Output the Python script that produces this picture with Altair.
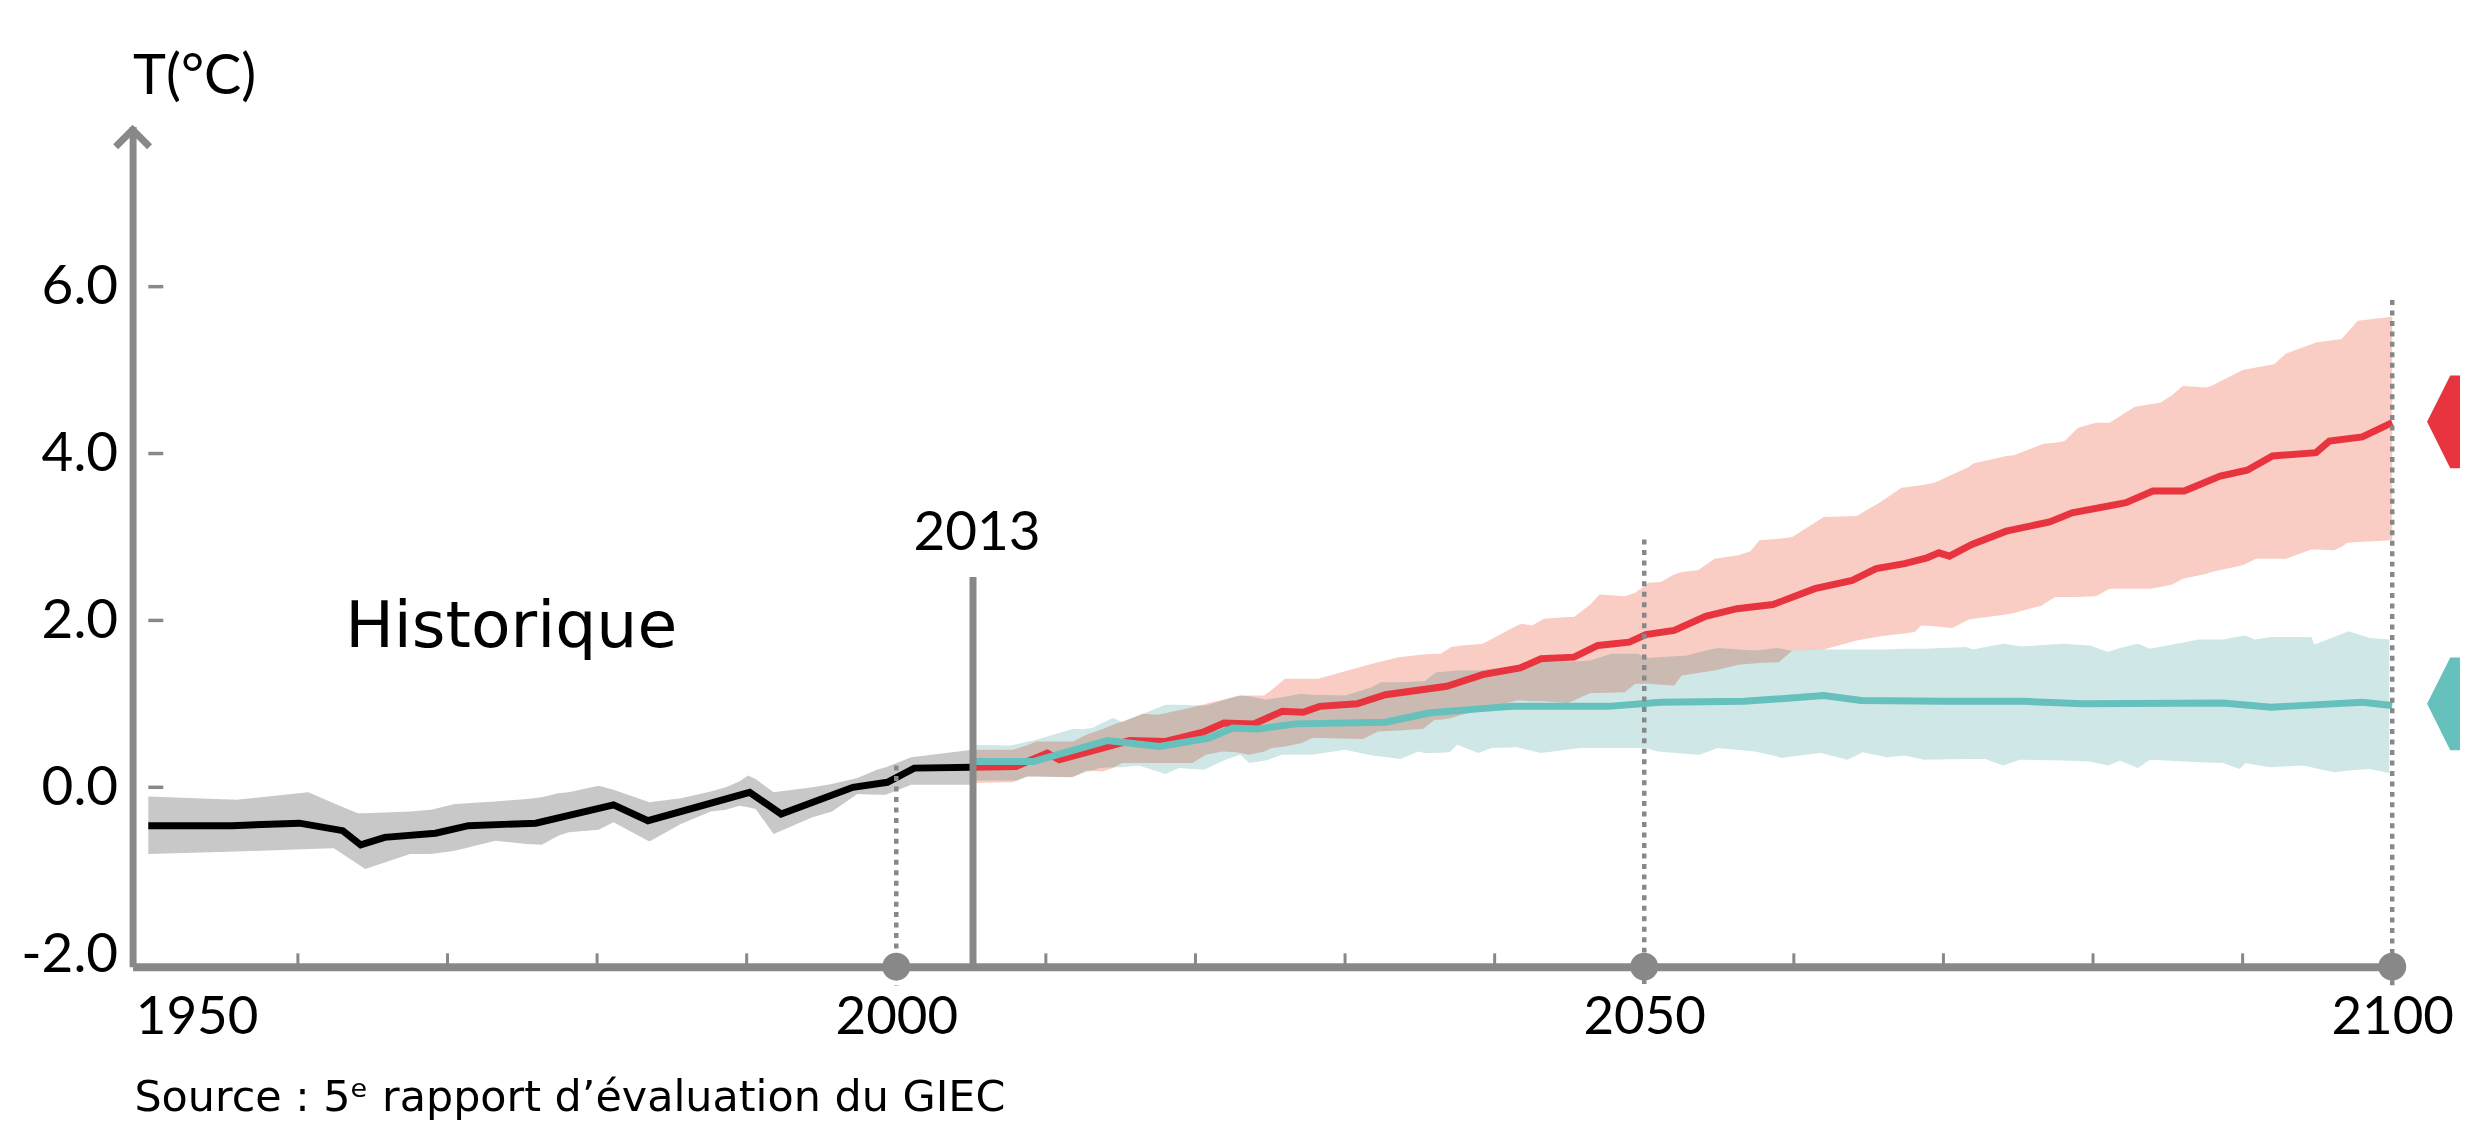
import altair as alt
import pandas as pd

# ---------------- data ----------------
hist_years = [1950.0, 1955.6, 1960.1, 1963.0, 1964.2, 1965.8, 1969.2, 1971.4, 1975.9,
              1981.1, 1983.4, 1990.2, 1992.3, 1997.1, 1999.4, 2001.2, 2005.1]
hist_temps = [-0.46, -0.46, -0.43, -0.52, -0.69, -0.60, -0.55, -0.46, -0.43,
              -0.21, -0.40, -0.06, -0.32, 0.00, 0.06, 0.23, 0.24]

hist_band_years = [1950.0, 1955.9, 1960.7, 1962.4, 1964.0, 1964.5, 1967.5, 1968.9, 1970.5,
                   1973.2, 1975.3, 1976.3, 1977.4, 1978.1, 1980.1, 1981.1, 1983.5, 1985.6,
                   1987.6, 1988.6, 1989.5, 1990.1, 1990.6, 1991.8, 1994.4, 1995.7, 1997.4,
                   1998.7, 1999.3, 2001.0, 2005.1]
hist_band_lo = [-0.80, -0.77, -0.74, -0.73, -0.92, -0.98, -0.80, -0.80, -0.76,
                -0.64, -0.68, -0.69, -0.58, -0.54, -0.51, -0.42, -0.65, -0.44,
                -0.29, -0.27, -0.22, -0.24, -0.26, -0.56, -0.36, -0.29, -0.08,
                -0.09, -0.09, 0.03, 0.03]
hist_band_hi = [-0.11, -0.15, -0.06, -0.19, -0.31, -0.31, -0.29, -0.27, -0.20,
                -0.17, -0.14, -0.12, -0.07, -0.06, 0.02, -0.03, -0.18, -0.13,
                -0.05, 0.00, 0.07, 0.14, 0.10, -0.06, 0.00, 0.04, 0.11,
                0.21, 0.24, 0.36, 0.45]

red_years = [2005.1, 2008.0, 2010.1, 2010.9, 2014.2, 2015.6, 2018.0, 2020.5, 2021.9, 2023.9,
             2025.8, 2027.2, 2028.3, 2030.8, 2032.7, 2036.8, 2039.2, 2041.7, 2043.1, 2045.3,
             2046.9, 2049.0, 2050.1, 2052.0, 2054.1, 2056.2, 2058.6, 2061.4, 2063.9, 2065.5,
             2067.4, 2068.9, 2069.7, 2070.4, 2071.9, 2074.2, 2077.1, 2078.6, 2082.2, 2084.0,
             2086.1, 2088.5, 2090.3, 2092.0, 2094.9, 2095.8, 2098.0, 2100.0]
red_temps = [0.24, 0.25, 0.41, 0.33, 0.49, 0.56, 0.55, 0.66, 0.77, 0.76,
             0.91, 0.90, 0.97, 1.00, 1.11, 1.21, 1.35, 1.43, 1.54, 1.56,
             1.70, 1.74, 1.83, 1.88, 2.05, 2.14, 2.19, 2.38, 2.48, 2.62,
             2.68, 2.75, 2.81, 2.77, 2.91, 3.07, 3.18, 3.29, 3.41, 3.55,
             3.55, 3.73, 3.80, 3.97, 4.01, 4.15, 4.20, 4.37]

teal_years = [2005.1, 2009.2, 2014.1, 2017.6, 2020.9, 2022.5, 2024.2, 2026.7, 2032.7, 2035.6,
              2038.9, 2041.2, 2047.6, 2051.1, 2056.7, 2062.0, 2064.5, 2070.0, 2075.4, 2079.3,
              2088.7, 2091.9, 2098.0, 2100.0]
teal_temps = [0.31, 0.31, 0.56, 0.49, 0.59, 0.71, 0.70, 0.76, 0.78, 0.89,
              0.94, 0.97, 0.97, 1.02, 1.03, 1.10, 1.04, 1.03, 1.03, 1.00,
              1.01, 0.96, 1.02, 0.98]

red_band_years = [2005.1, 2007.8, 2008.7, 2009.35, 2011.8, 2012.7, 2013.8, 2014.5, 2015.1, 2016.5,
                  2017.5, 2019.8, 2020.7, 2021.8, 2022.7, 2023.0, 2023.6, 2024.6, 2025.1, 2026.0,
                  2027.1, 2027.8, 2028.2, 2031.2, 2032.2, 2033.6, 2035.2, 2036.0, 2036.4, 2037.1,
                  2037.8, 2039.2, 2041.5, 2041.8, 2042.5, 2043.3, 2044.9, 2045.3, 2046.4, 2047.0,
                  2048.7, 2049.4, 2050.3, 2051.1, 2052.0, 2052.5, 2053.6, 2054.7, 2056.3, 2057.1,
                  2057.7, 2059.0, 2059.9, 2062.0, 2064.2, 2065.8, 2067.2, 2068.1, 2068.5, 2069.4,
                  2070.6, 2071.7, 2072.0, 2074.2, 2074.7, 2076.6, 2076.8, 2077.5, 2078.1, 2079.0,
                  2080.2, 2081.1, 2082.8, 2083.8, 2084.5, 2085.3, 2086.0, 2087.6, 2087.9, 2090.0,
                  2090.9, 2092.1, 2092.9, 2094.6, 2094.9, 2096.1, 2096.6, 2097.0, 2097.7, 2100.0]
red_band_lo = [0.05, 0.06, 0.13, 0.13, 0.12, 0.20, 0.19, 0.23, 0.29, 0.29,
               0.29, 0.29, 0.39, 0.43, 0.42, 0.41, 0.39, 0.43, 0.47, 0.49,
               0.53, 0.59, 0.59, 0.58, 0.67, 0.68, 0.70, 0.81, 0.81, 0.83,
               0.87, 0.93, 1.04, 1.04, 1.03, 1.03, 1.01, 1.04, 1.13, 1.13,
               1.14, 1.24, 1.24, 1.23, 1.22, 1.34, 1.37, 1.40, 1.47, 1.48,
               1.49, 1.50, 1.64, 1.65, 1.76, 1.81, 1.84, 1.86, 1.94, 1.93,
               1.91, 2.01, 2.02, 2.07, 2.09, 2.18, 2.21, 2.28, 2.28, 2.28,
               2.29, 2.38, 2.38, 2.38, 2.40, 2.43, 2.50, 2.56, 2.58, 2.66,
               2.74, 2.74, 2.74, 2.85, 2.85, 2.84, 2.88, 2.93, 2.94, 2.96]
red_band_hi = [0.45, 0.45, 0.50, 0.55, 0.55, 0.63, 0.70, 0.75, 0.79, 0.88,
               0.87, 0.96, 1.00, 1.05, 1.09, 1.10, 1.10, 1.10, 1.17, 1.30,
               1.30, 1.30, 1.30, 1.45, 1.50, 1.56, 1.59, 1.60, 1.60, 1.68,
               1.70, 1.72, 1.94, 1.96, 1.94, 2.02, 2.04, 2.04, 2.19, 2.31,
               2.29, 2.33, 2.45, 2.46, 2.55, 2.58, 2.60, 2.74, 2.78, 2.83,
               2.96, 2.98, 3.00, 3.24, 3.25, 3.42, 3.59, 3.61, 3.62, 3.65,
               3.75, 3.84, 3.88, 3.97, 3.98, 4.11, 4.12, 4.13, 4.15, 4.31,
               4.37, 4.37, 4.56, 4.59, 4.61, 4.70, 4.81, 4.79, 4.81, 5.00,
               5.03, 5.07, 5.20, 5.31, 5.33, 5.36, 5.37, 5.45, 5.59, 5.64]

teal_band_years = [2005.1, 2007.6, 2008.1, 2008.8, 2009.2, 2011.6, 2011.8, 2012.5, 2013.1, 2013.6,
                   2014.5, 2015.1, 2016.2, 2018.0, 2018.9, 2020.5, 2020.7, 2022.0, 2023.0, 2023.6,
                   2024.7, 2025.8, 2027.0, 2027.8, 2030.0, 2031.8, 2032.4, 2033.7, 2034.9, 2035.3,
                   2036.1, 2037.0, 2037.5, 2038.9, 2039.8, 2041.5, 2043.1, 2045.7, 2046.4, 2047.8,
                   2049.6, 2050.0, 2050.3, 2050.9, 2052.9, 2053.7, 2054.9, 2057.4, 2058.9, 2059.2,
                   2059.8, 2061.8, 2063.6, 2064.6, 2066.2, 2067.4, 2068.7, 2071.5, 2072.0, 2072.8,
                   2074.0, 2075.1, 2075.4, 2078.0, 2079.8, 2081.0, 2081.8, 2083.0, 2083.8, 2087.1,
                   2088.7, 2089.8, 2090.2, 2090.8, 2091.9, 2094.0, 2094.6, 2094.8, 2096.1, 2097.1,
                   2098.5, 2099.8]
teal_band_lo = [0.08, 0.08, 0.08, 0.13, 0.13, 0.12, 0.13, 0.17, 0.20, 0.23,
                0.24, 0.24, 0.26, 0.16, 0.23, 0.21, 0.22, 0.33, 0.39, 0.29,
                0.32, 0.39, 0.39, 0.39, 0.45, 0.38, 0.37, 0.34, 0.43, 0.41,
                0.41, 0.42, 0.51, 0.41, 0.47, 0.48, 0.41, 0.47, 0.47, 0.47,
                0.47, 0.47, 0.46, 0.43, 0.40, 0.39, 0.47, 0.43, 0.37, 0.35,
                0.37, 0.41, 0.33, 0.42, 0.36, 0.38, 0.33, 0.34, 0.34, 0.34,
                0.26, 0.33, 0.33, 0.32, 0.31, 0.26, 0.32, 0.23, 0.33, 0.30,
                0.29, 0.22, 0.29, 0.27, 0.24, 0.26, 0.24, 0.23, 0.18, 0.20,
                0.22, 0.17]
teal_band_hi = [0.51, 0.50, 0.52, 0.55, 0.56, 0.69, 0.70, 0.70, 0.71, 0.76,
                0.83, 0.78, 0.86, 0.99, 0.99, 0.98, 0.98, 1.05, 1.10, 1.09,
                1.05, 1.08, 1.12, 1.11, 1.10, 1.20, 1.26, 1.26, 1.27, 1.27,
                1.38, 1.39, 1.40, 1.40, 1.42, 1.45, 1.50, 1.51, 1.52, 1.60,
                1.60, 1.56, 1.55, 1.56, 1.58, 1.62, 1.67, 1.64, 1.67, 1.66,
                1.64, 1.65, 1.65, 1.65, 1.65, 1.66, 1.66, 1.68, 1.65, 1.68,
                1.72, 1.69, 1.69, 1.72, 1.70, 1.62, 1.67, 1.72, 1.66, 1.77,
                1.77, 1.81, 1.82, 1.77, 1.80, 1.80, 1.80, 1.71, 1.80, 1.87,
                1.79, 1.77]

x_label_years = [1950, 2000, 2050, 2100]
y_label_values = [-2, 0, 2, 4, 6]
y_tick_values = [0, 2, 4, 6]
minor_tick_years = [1960, 1970, 1980, 1990, 2010, 2020, 2030, 2040, 2060, 2070, 2080, 2090]
milestone_years = [2000, 2050, 2100]
milestone_tops = [0.26, 2.97, 5.84]
scenario_names = ["RCP8.5", "RCP2.6"]
scenario_end_temps = [4.38, 1.00]

now_label = "2013"
hist_label = "Historique"
source_label = "Source : 5ᵉ rapport d’évaluation du GIEC"
y_title = "T(°C)"

# ---------------- styles ----------------
GRAY = "#888888"
RED = "#E8343F"
TEAL = "#66C0BC"
RED_BAND = "#F9CDC4"
TEAL_BAND = "#CFE8E7"
HIST_BAND = "#C8C8C8"
NUM_FONT = "Lato"
TEXT_FONT = "DejaVu Sans"

x_scale = alt.Scale(domain=[1948.95, 2100.2], nice=False, zero=False)
y_scale = alt.Scale(domain=[-2.15, 7.92], nice=False, zero=False)

x_axis = alt.Axis(
    values=x_label_years, format="d", title=None, grid=False, ticks=False, tickSize=0,
    domain=True, domainColor=GRAY, domainWidth=8,
    labelFont=NUM_FONT, labelFontSize=53, labelColor="black", labelPadding=25,
    labelFlush=False, labelOverlap=False,
    labelAlign={"condition": {"test": "datum.value == 1950", "value": "left"}, "value": "center"},
    labelOffset={"condition": {"test": "datum.value == 1950", "value": -13}, "value": 0},
)
y_axis = alt.Axis(
    values=y_label_values, title=y_title, titleAngle=0, titleAlign="left",
    titleBaseline="alphabetic", titleX=0, titleY=-33, titleFont=NUM_FONT,
    titleFontSize=56, titleFontWeight="normal", titleColor="black",
    grid=False, ticks=False, tickSize=0, domain=True, domainColor=GRAY, domainWidth=7,
    labelFont=NUM_FONT, labelFontSize=55, labelColor="black", labelPadding=15,
    labelOverlap=False, labelFlush=False,
    labelExpr="datum.value < 0 ? '-' + format(-datum.value, '.1f') : format(datum.value, '.1f')",
)


def X(field):
    return alt.X(field, type="quantitative", scale=x_scale, axis=x_axis)


def Y(field):
    return alt.Y(field, type="quantitative", scale=y_scale, axis=y_axis)


def XD(v):
    return alt.XDatum(v, type="quantitative", scale=x_scale, axis=x_axis)


def YD(v):
    return alt.YDatum(v, type="quantitative", scale=y_scale, axis=y_axis)


df_hist = pd.DataFrame({"year": hist_years, "t": hist_temps})
df_hist_band = pd.DataFrame({"year": hist_band_years, "lo": hist_band_lo, "hi": hist_band_hi})
df_red = pd.DataFrame({"year": red_years, "t": red_temps})
df_teal = pd.DataFrame({"year": teal_years, "t": teal_temps})
df_red_band = pd.DataFrame({"year": red_band_years, "lo": red_band_lo, "hi": red_band_hi})
df_teal_band = pd.DataFrame({"year": teal_band_years, "lo": teal_band_lo, "hi": teal_band_hi})
df_minor = pd.DataFrame({"year": minor_tick_years})
df_yticks = pd.DataFrame({"v": y_tick_values})
df_milestones = pd.DataFrame({"year": milestone_years, "top": milestone_tops})
df_scen = pd.DataFrame({"scenario": scenario_names, "t": scenario_end_temps})

hist_band = alt.Chart(df_hist_band).mark_area(color=HIST_BAND, opacity=1).encode(
    x=X("year"), y=Y("lo"), y2="hi")
teal_band = alt.Chart(df_teal_band).mark_area(color=TEAL_BAND, opacity=1, blend="multiply").encode(
    x=X("year"), y=Y("lo"), y2="hi")
red_band = alt.Chart(df_red_band).mark_area(color=RED_BAND, opacity=1, blend="multiply").encode(
    x=X("year"), y=Y("lo"), y2="hi")

red_line = alt.Chart(df_red).mark_line(color=RED, strokeWidth=7).encode(x=X("year"), y=Y("t"))
teal_line = alt.Chart(df_teal).mark_line(color=TEAL, strokeWidth=7).encode(x=X("year"), y=Y("t"))
hist_line = alt.Chart(df_hist).mark_line(color="black", strokeWidth=7).encode(x=X("year"), y=Y("t"))

now_rule = alt.Chart(pd.DataFrame({"label": [now_label]})).mark_rule(
    color=GRAY, strokeWidth=7).encode(x=XD(2005.13), y=YD(2.52), y2=alt.datum(-2.15))

minor_ticks = alt.Chart(df_minor).mark_rule(color=GRAY, strokeWidth=3).encode(
    x=X("year"), y=YD(-2.15), y2=alt.datum(-1.99))
y_ticks = alt.Chart(df_yticks).mark_rule(color=GRAY, strokeWidth=3.5).encode(
    y=Y("v"), x=XD(1950.0), x2=alt.datum(1951.0))

milestone_lines = alt.Chart(df_milestones).mark_rule(
    color=GRAY, strokeWidth=4.5, strokeDash=[5, 5.5]).encode(
    x=X("year"), y=Y("top"), y2=alt.datum(-2.38))
milestone_dots = alt.Chart(df_milestones).mark_circle(size=784, color=GRAY, opacity=1).encode(
    x=X("year"), y=YD(-2.15))

arrow = alt.Chart(pd.DataFrame({"k": [0]})).mark_point(
    shape="M -1 1 L 0 0 L 1 1", size=1156, filled=False, stroke=GRAY, strokeWidth=7,
    opacity=1, strokeJoin="miter").encode(x=XD(1948.95), y=YD(7.88))

hexes = alt.Chart(df_scen).mark_point(
    shape="M 0 0 L 0.5 -1 L 2.4 -1 L 2.4 1 L 0.5 1 Z", size=8649, filled=True,
    opacity=1, strokeWidth=0).encode(
    x=XD(2102.33), y=Y("t"),
    color=alt.Color("scenario:N", scale=alt.Scale(domain=scenario_names, range=[RED, TEAL]),
                    legend=None))

now_text = alt.Chart(pd.DataFrame({"label": [now_label]})).mark_text(
    font=NUM_FONT, fontSize=55, align="center", baseline="alphabetic", color="black").encode(
    x=XD(2005.4), y=YD(2.84), text="label:N")
hist_text = alt.Chart(pd.DataFrame({"label": [hist_label]})).mark_text(
    font=TEXT_FONT, fontSize=65, align="left", baseline="alphabetic", color="black").encode(
    x=XD(1963.16), y=YD(1.68), text="label:N")
source_text = alt.Chart(pd.DataFrame({"label": [source_label]})).mark_text(
    font=TEXT_FONT, fontSize=43, align="left", baseline="alphabetic", color="black").encode(
    x=XD(1949.07), y=YD(-3.88), text="label:N")

chart = alt.layer(
    hist_band, teal_band, red_band,
    red_line, teal_line, hist_line,
    now_rule, minor_ticks, y_ticks,
    milestone_lines, milestone_dots,
    arrow, hexes,
    now_text, hist_text, source_text,
).properties(
    width=2270, height=843,
    autosize=alt.AutoSizeParams(type="none"),
    padding={"left": 125, "top": 117, "right": 65, "bottom": 157},
).configure_view(strokeWidth=0)

chart.save("out.html", embed_options={"renderer": "svg", "actions": False})
